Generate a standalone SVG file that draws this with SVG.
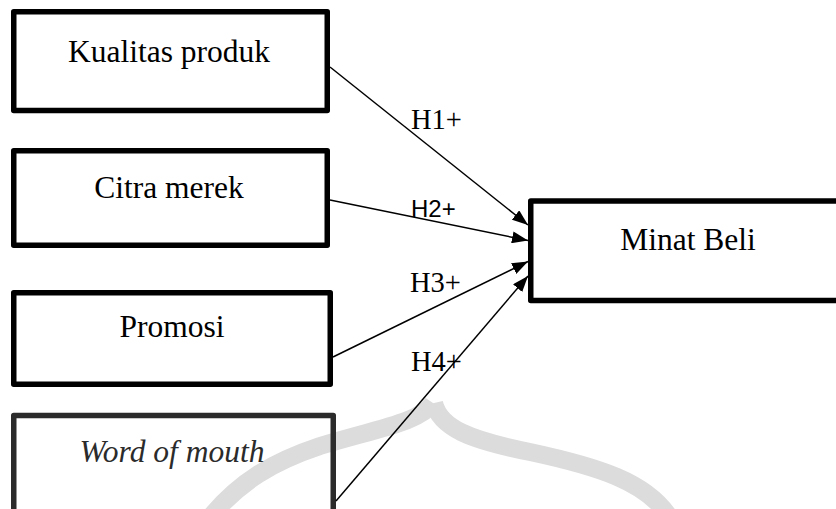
<svg xmlns="http://www.w3.org/2000/svg" width="836" height="509" viewBox="0 0 836 509">
<style>
.box{fill:none;stroke:#000;stroke-width:5.5;stroke-linejoin:round}
.t{font-family:"Liberation Serif","Times New Roman",serif;font-size:31.5px;fill:#000;text-anchor:middle}
.lbl{font-family:"Liberation Serif","Times New Roman",serif;font-size:28.5px;fill:#000}
.lbls{font-family:"Liberation Sans",Arial,sans-serif;font-size:24px;fill:#000}
.c{stroke:#000;stroke-width:1.5;fill:none;marker-end:url(#ah)}
.wm{fill:none;stroke:#dcdcdc;stroke-width:18;stroke-linecap:butt}
</style>
<defs>
<marker id="ah" viewBox="0 0 16 12" refX="16" refY="6" markerWidth="16" markerHeight="12" markerUnits="userSpaceOnUse" orient="auto">
<path d="M0,0 L16,6 L0,12 Z" fill="#000"/>
</marker>
</defs>
<rect width="836" height="509" fill="#fff"/>
<g id="watermark">
<path class="wm" d="M212,515 C240,482 272,462 320,446 C380,428 420,422 433,403"/>
<path class="wm" d="M434,403 C440,428 470,440 530,452 C600,467 645,482 668,515"/>
</g>
<g id="n1"><rect class="box" x="13.75" y="11.75" width="313.5" height="98.75"/><text class="t" x="169" y="62">Kualitas produk</text></g>
<g id="n2"><rect class="box" x="13.75" y="150.75" width="313.5" height="94.5"/><text class="t" x="169" y="198">Citra merek</text></g>
<g id="n3"><rect class="box" x="13.75" y="292.75" width="316.5" height="91.5"/><text class="t" x="172" y="337">Promosi</text></g>
<g id="n4"><rect class="box" style="stroke:#2b2b2b" x="13.75" y="415.5" width="319.5" height="120"/><text class="t" style="font-style:italic;fill:#2b2b2b" x="172" y="462">Word of mouth</text></g>
<g id="n5"><rect class="box" x="530.75" y="201" width="330" height="99.5"/><text class="t" x="688" y="250">Minat Beli</text></g>
<g id="connectors">
<line class="c" x1="330" y1="67" x2="528" y2="225"/>
<line class="c" x1="330" y1="200" x2="528" y2="240.5"/>
<line class="c" x1="333" y1="357" x2="528" y2="261.5"/>
<line class="c" x1="336" y1="501" x2="528" y2="276"/>
<text class="lbl" x="411" y="129">H1+</text>
<text class="lbls" x="411" y="217">H2+</text>
<text class="lbl" x="410" y="291.5">H3+</text>
<text class="lbl" x="411" y="371">H4+</text>
</g>
</svg>
